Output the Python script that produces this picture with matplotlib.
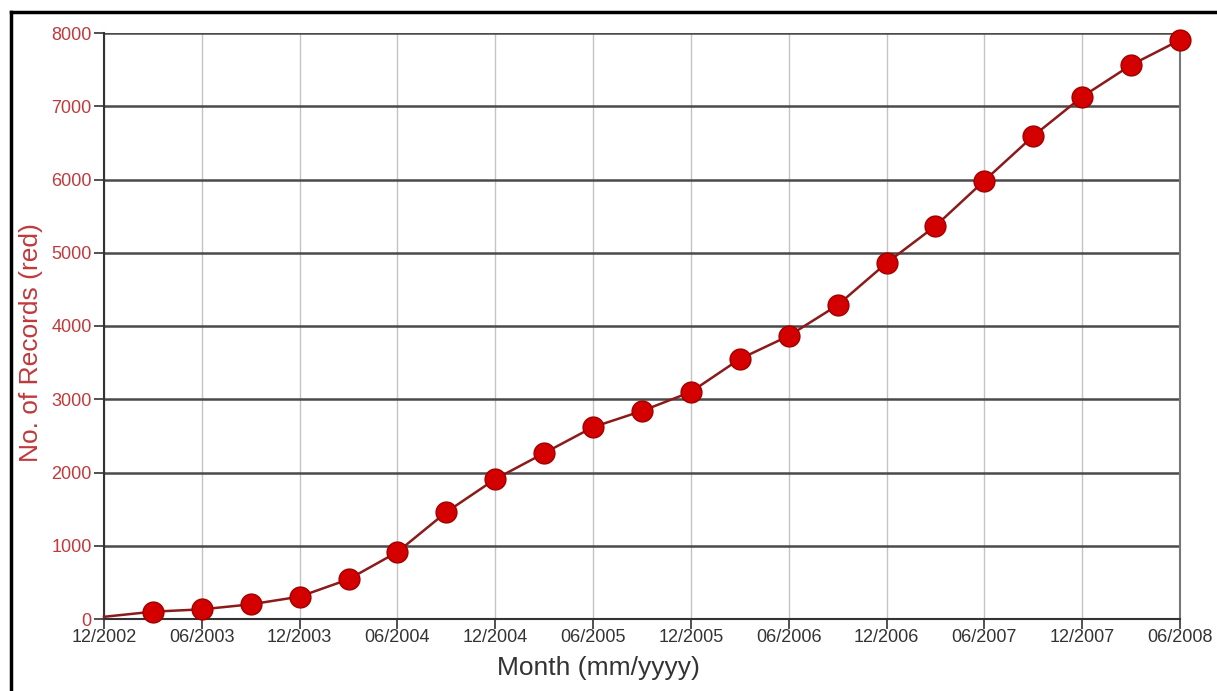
import matplotlib
matplotlib.use("Agg")
import matplotlib.pyplot as plt
from matplotlib.lines import Line2D

# Months since 12/2002 (quarterly points)
months = [0, 3, 6, 9, 12, 15, 18, 21, 24, 27, 30, 33, 36, 39, 42, 45, 48, 51, 54, 57, 60, 63, 66]
records = [30, 100, 132, 200, 305, 542, 915, 1460, 1910, 2265, 2620, 2840, 3100,
           3550, 3865, 4285, 4860, 5365, 5984, 6594, 7130, 7563, 7904]
tick_months = [0, 6, 12, 18, 24, 30, 36, 42, 48, 54, 60, 66]
tick_labels = ["12/2002", "06/2003", "12/2003", "06/2004", "12/2004", "06/2005",
               "12/2005", "06/2006", "12/2006", "06/2007", "12/2007", "06/2008"]
y_ticks = [0, 1000, 2000, 3000, 4000, 5000, 6000, 7000, 8000]

plt.rcParams['font.family'] = ['Liberation Sans', 'DejaVu Sans']

fig = plt.figure(figsize=(12.17, 6.91), dpi=100)
ax = fig.add_axes([104/1217, 1 - 619/691, (1180-104)/1217, (619-33)/691])

# figure frame (left and top black lines)
fig.add_artist(Line2D([11/1217, 11/1217], [0, 1 - 12/691], transform=fig.transFigure, color='black', lw=2.5))
fig.add_artist(Line2D([11/1217, 1], [1 - 12/691, 1 - 12/691], transform=fig.transFigure, color='black', lw=2.5))

ax.set_xlim(0, 66)
ax.set_ylim(0, 8000)

for m in tick_months:
    ax.axvline(m, color='#c4c4c4', lw=1.0, zorder=1)
for yv in y_ticks:
    ax.axhline(yv, color='#4a4a4a', lw=1.8, zorder=1)

ax.plot(months, records, color='#8b1a1a', lw=1.8, zorder=3, clip_on=False)
ax.plot(months[1:], records[1:], linestyle='none', marker='o', markersize=15,
        markerfacecolor='#d40000', markeredgecolor='#a00000', markeredgewidth=1.0,
        zorder=4, clip_on=False)

ax.set_xticks(tick_months)
ax.set_xticklabels(tick_labels, fontsize=13, color='#333333')
ax.set_yticks(y_ticks)
ax.set_yticklabels([str(v) for v in y_ticks], fontsize=13, color='#c0393b')
ax.tick_params(axis='both', direction='out', length=7, width=1.2, color='#333333', pad=2)
ax.tick_params(axis='x', pad=0)

for s in ['left', 'bottom', 'right']:
    ax.spines[s].set_color('#333333')
    ax.spines[s].set_linewidth(1.5)
ax.spines['top'].set_visible(False)
ax.spines['right'].set_color('#777777')

ax.set_xlabel('Month (mm/yyyy)', fontsize=19, color='#333333')
ax.set_ylabel('No. of Records (red)', fontsize=19, color='#c0393b')
ax.xaxis.set_label_coords((598 - 104) / (1180 - 104), -(668 - 619) / (619 - 33), transform=ax.transAxes)
ax.yaxis.set_label_coords(-(104 - 31) / (1180 - 104), (619 - 343) / (619 - 33), transform=ax.transAxes)
ax.xaxis.label.set_verticalalignment('center')
ax.yaxis.label.set_verticalalignment('center')

fig.savefig('out.png', dpi=100)
